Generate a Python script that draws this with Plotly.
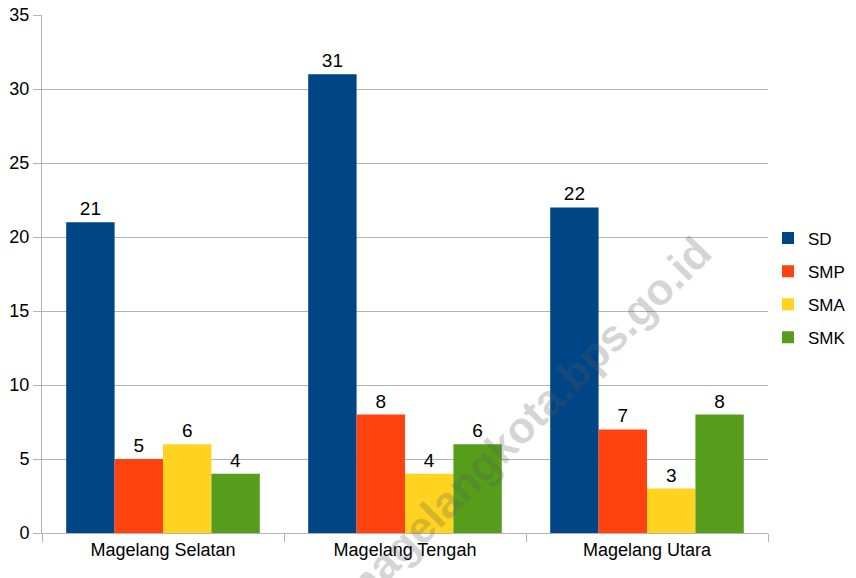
import plotly.graph_objects as go

categories = ["Magelang Selatan", "Magelang Tengah", "Magelang Utara"]
series_names = ["SD", "SMP", "SMA", "SMK"]
sd = [21, 31, 22]
smp = [5, 8, 7]
sma = [6, 4, 3]
smk = [4, 6, 8]
colors = ["#004586", "#ff420e", "#ffd320", "#579d1c"]
y_ticks = [0, 5, 10, 15, 20, 25, 30, 35]

FONT = "Liberation Sans, Arial, sans-serif"

fig = go.Figure()
for name, vals, col in zip(series_names, [sd, smp, sma, smk], colors):
    fig.add_trace(go.Bar(
        name=name, x=categories, y=vals, marker=dict(color=col, line=dict(width=0)),
        text=[str(v) for v in vals], textposition="outside", cliponaxis=False,
        textfont=dict(family=FONT, size=19, color="#000000"), legendgroup=name,
    ))

fig.add_annotation(
    text="<b>magelangkota.bps.go.id</b>", x=0.665, y=0.214, xref="paper", yref="paper",
    xanchor="center", yanchor="middle",
    textangle=-45, showarrow=False,
    font=dict(family="Liberation Sans, Arial, sans-serif", size=44, color="rgba(90,90,90,0.25)"),
)

fig.update_layout(
    width=848, height=570,
    margin=dict(l=34, r=88, t=7, b=45, autoexpand=False),
    paper_bgcolor="white", plot_bgcolor="white",
    barmode="group", bargap=0.2, bargroupgap=0,
    font=dict(family=FONT, size=18, color="#000000"),
    legend=dict(x=1.0, y=0.473, yanchor="middle", xanchor="left",
                font=dict(family=FONT, size=17), tracegroupgap=8,
                itemwidth=30),
    showlegend=True,
)
fig.update_xaxes(
    showline=True, linecolor="#b3b3b3", linewidth=1, automargin=False,
    ticks="outside", tickson="boundaries", ticklen=8, tickcolor="#b3b3b3",
    tickfont=dict(family=FONT, size=18), showgrid=False,
)
fig.update_yaxes(
    range=[0, 35], tickvals=y_ticks, showgrid=True, gridcolor="#b3b3b3", gridwidth=1,
    showline=True, linecolor="#b3b3b3", linewidth=1, automargin=False,
    ticks="outside", ticklen=8, tickcolor="#b3b3b3", ticklabeloverflow="allow",
    tickfont=dict(family=FONT, size=18), zeroline=False,
)
fig.write_html("out.html")
